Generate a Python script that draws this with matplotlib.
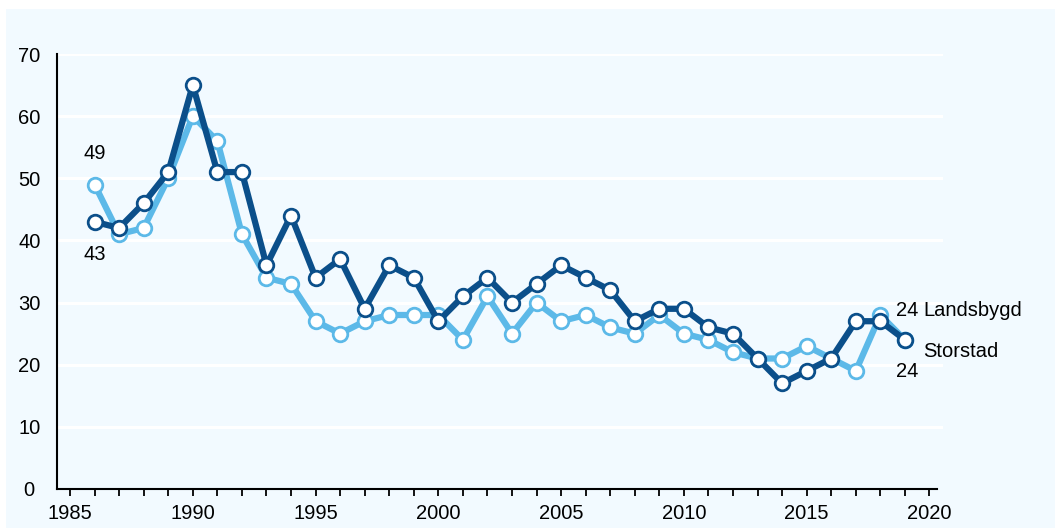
import matplotlib
matplotlib.use("Agg")
import matplotlib.pyplot as plt
from matplotlib.patches import Rectangle

years = list(range(1986, 2020))
storstad = [43, 42, 46, 51, 65, 51, 51, 36, 44, 34, 37, 29, 36, 34, 27, 31, 34, 30, 33, 36,
            34, 32, 27, 29, 29, 26, 25, 21, 17, 19, 21, 27, 27, 24]
landsbygd = [49, 41, 42, 50, 60, 56, 41, 34, 33, 27, 25, 27, 28, 28, 28, 24, 31, 25, 30, 27,
             28, 26, 25, 28, 25, 24, 22, 21, 21, 23, 21, 19, 28, 24]
yticks = [0, 10, 20, 30, 40, 50, 60, 70]
xticks_major = [1985, 1990, 1995, 2000, 2005, 2010, 2015, 2020]

plt.rcParams['font.family'] = ['Liberation Sans', 'DejaVu Sans']
BG = '#f2faff'
DARK = '#0b4f8a'
LIGHT = '#5cb9e8'

fig = plt.figure(figsize=(10.55, 5.28), dpi=100)
fig.patch.set_facecolor('white')
fig.patches.append(Rectangle((6/1055, 0), 1 - 6/1055, 1 - 9/528, transform=fig.transFigure,
                             facecolor=BG, edgecolor='none', zorder=-10))

ax = fig.add_axes([57/1055, 1 - 489/528, (943 - 57)/1055, (489 - 54)/528])
ax.set_facecolor(BG)
x0, x1 = 1984.47, 2020.55
ax.set_xlim(x0, x1)
ax.set_ylim(0, 70)

for v in yticks[1:]:
    ax.axhline(v, color='white', lw=2.2, zorder=0)

ax.plot(years, landsbygd, color=LIGHT, lw=4.5, marker='o', ms=10.5, mfc='white',
        mec=LIGHT, mew=2, zorder=3, solid_joinstyle='round')
ax.plot(years, storstad, color=DARK, lw=4.5, marker='o', ms=10.5, mfc='white',
        mec=DARK, mew=2, zorder=4, solid_joinstyle='round')

for s in ['top', 'right']:
    ax.spines[s].set_visible(False)
ax.spines['left'].set_linewidth(1.5)
ax.spines['bottom'].set_linewidth(1.5)
ax.spines['bottom'].set_bounds(x0, 2020.3)

fs = 14.5
ax.set_yticks(yticks)
ax.set_xticks(xticks_major)
ax.set_xticks(list(range(1985, 2021)), minor=True)
ax.tick_params(axis='y', length=0, pad=20, labelsize=fs)
ax.tick_params(axis='x', which='both', direction='out', length=5, width=1.3, labelsize=fs, pad=6)
for lbl in ax.get_yticklabels():
    lbl.set_horizontalalignment('center')

ax.text(1986, 54, '49', ha='center', va='center', fontsize=fs)
ax.text(1986, 37.8, '43', ha='center', va='center', fontsize=fs)
ax.text(2018.62, 28.8, '24', ha='left', va='center', fontsize=fs, clip_on=False)
ax.text(2019.76, 28.8, 'Landsbygd', ha='left', va='center', fontsize=fs, clip_on=False)
ax.text(2019.76, 22.1, 'Storstad', ha='left', va='center', fontsize=fs, clip_on=False)
ax.text(2018.62, 18.9, '24', ha='left', va='center', fontsize=fs, clip_on=False)

fig.savefig('out.png', dpi=100, facecolor=fig.get_facecolor())
